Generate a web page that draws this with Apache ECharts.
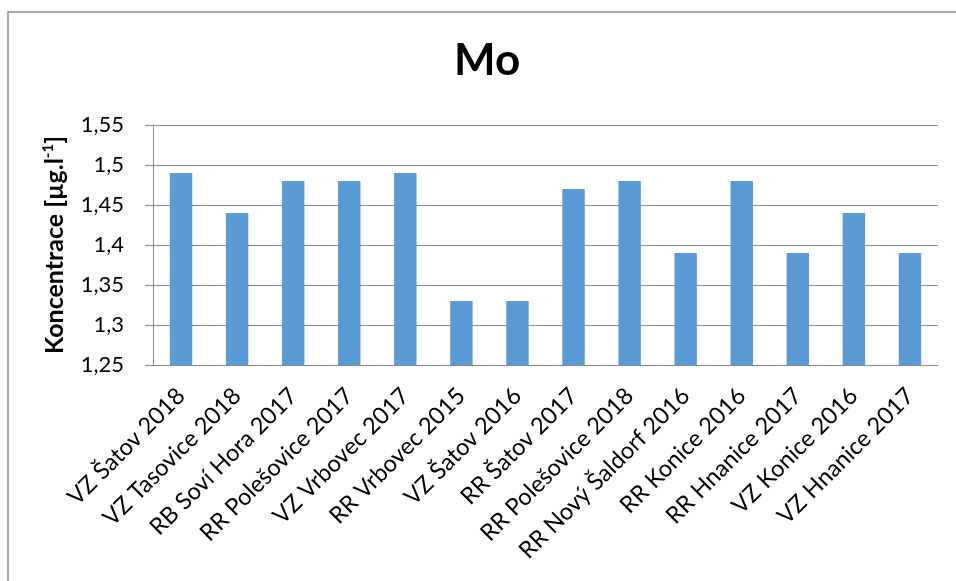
<!DOCTYPE html>
<html><head><meta charset="utf-8">
<script src="https://cdn.jsdelivr.net/npm/echarts@6/dist/echarts.min.js"></script>
<style>html,body{margin:0;padding:0;background:#fff}#c{width:956px;height:581px}</style>
</head><body><div id="c"></div>
<script>
const categories = ["VZ Šatov 2018","VZ Tasovice 2018","RB Soví Hora 2017","RR Polešovice 2017","VZ Vrbovec 2017","RR Vrbovec 2015","VZ Šatov 2016","RR Šatov 2017","RR Polešovice 2018","RR Nový Šaldorf 2016","RR Konice 2016","RR Hnanice 2017","VZ Konice 2016","VZ Hnanice 2017"];
const values = [1.49,1.44,1.48,1.48,1.49,1.33,1.33,1.47,1.48,1.39,1.48,1.39,1.44,1.39];
const yMin = 1.25, yMax = 1.55, yStep = 0.05;
const titleText = "Mo";
const FONT = "Lato";
const chart = echarts.init(document.getElementById('c'));
chart.setOption({
  animation:false,
  textStyle:{fontFamily:FONT},
  title:{text:titleText,left:449,top:34,textStyle:{fontFamily:FONT,fontSize:44,fontWeight:'bold',color:'#000'}},
  graphic:[{type:'rect',shape:{x:8,y:12,width:1200,height:1200},style:{fill:'none',stroke:'#8c8c8c',lineWidth:1.5},silent:true}],
  grid:{left:153,right:18,top:125,bottom:216,containLabel:false},
  xAxis:{type:'category',data:categories,
    axisLine:{lineStyle:{color:'#8c8c8c',width:1}},
    axisTick:{show:false},
    axisLabel:{rotate:45,interval:0,color:'#000',fontSize:23.5,fontFamily:FONT,margin:27}},
  yAxis:{type:'value',min:yMin,max:yMax,interval:yStep,
    name:'{n|Koncentrace [µg.l}{s|-1}{n|]}',nameLocation:'middle',nameGap:84,nameRotate:90,
    nameTextStyle:{rich:{n:{fontSize:25,fontWeight:'bold',color:'#000',fontFamily:FONT},s:{fontSize:15,fontWeight:'bold',color:'#000',fontFamily:FONT,verticalAlign:'top',padding:[0,0,13,0]}}},
    axisLine:{show:true,lineStyle:{color:'#8c8c8c'}},
    axisTick:{show:true,length:8,lineStyle:{color:'#8c8c8c'}},
    splitLine:{lineStyle:{color:'#8c8c8c',width:1}},
    axisLabel:{color:'#000',fontSize:22,fontFamily:FONT,margin:29,formatter:v=>String(Math.round(v*100)/100).replace('.',',')}},
  series:[{type:'bar',data:values,barCategoryGap:'60%',itemStyle:{color:'#5b9bd5'}}]
});
</script></body></html>
